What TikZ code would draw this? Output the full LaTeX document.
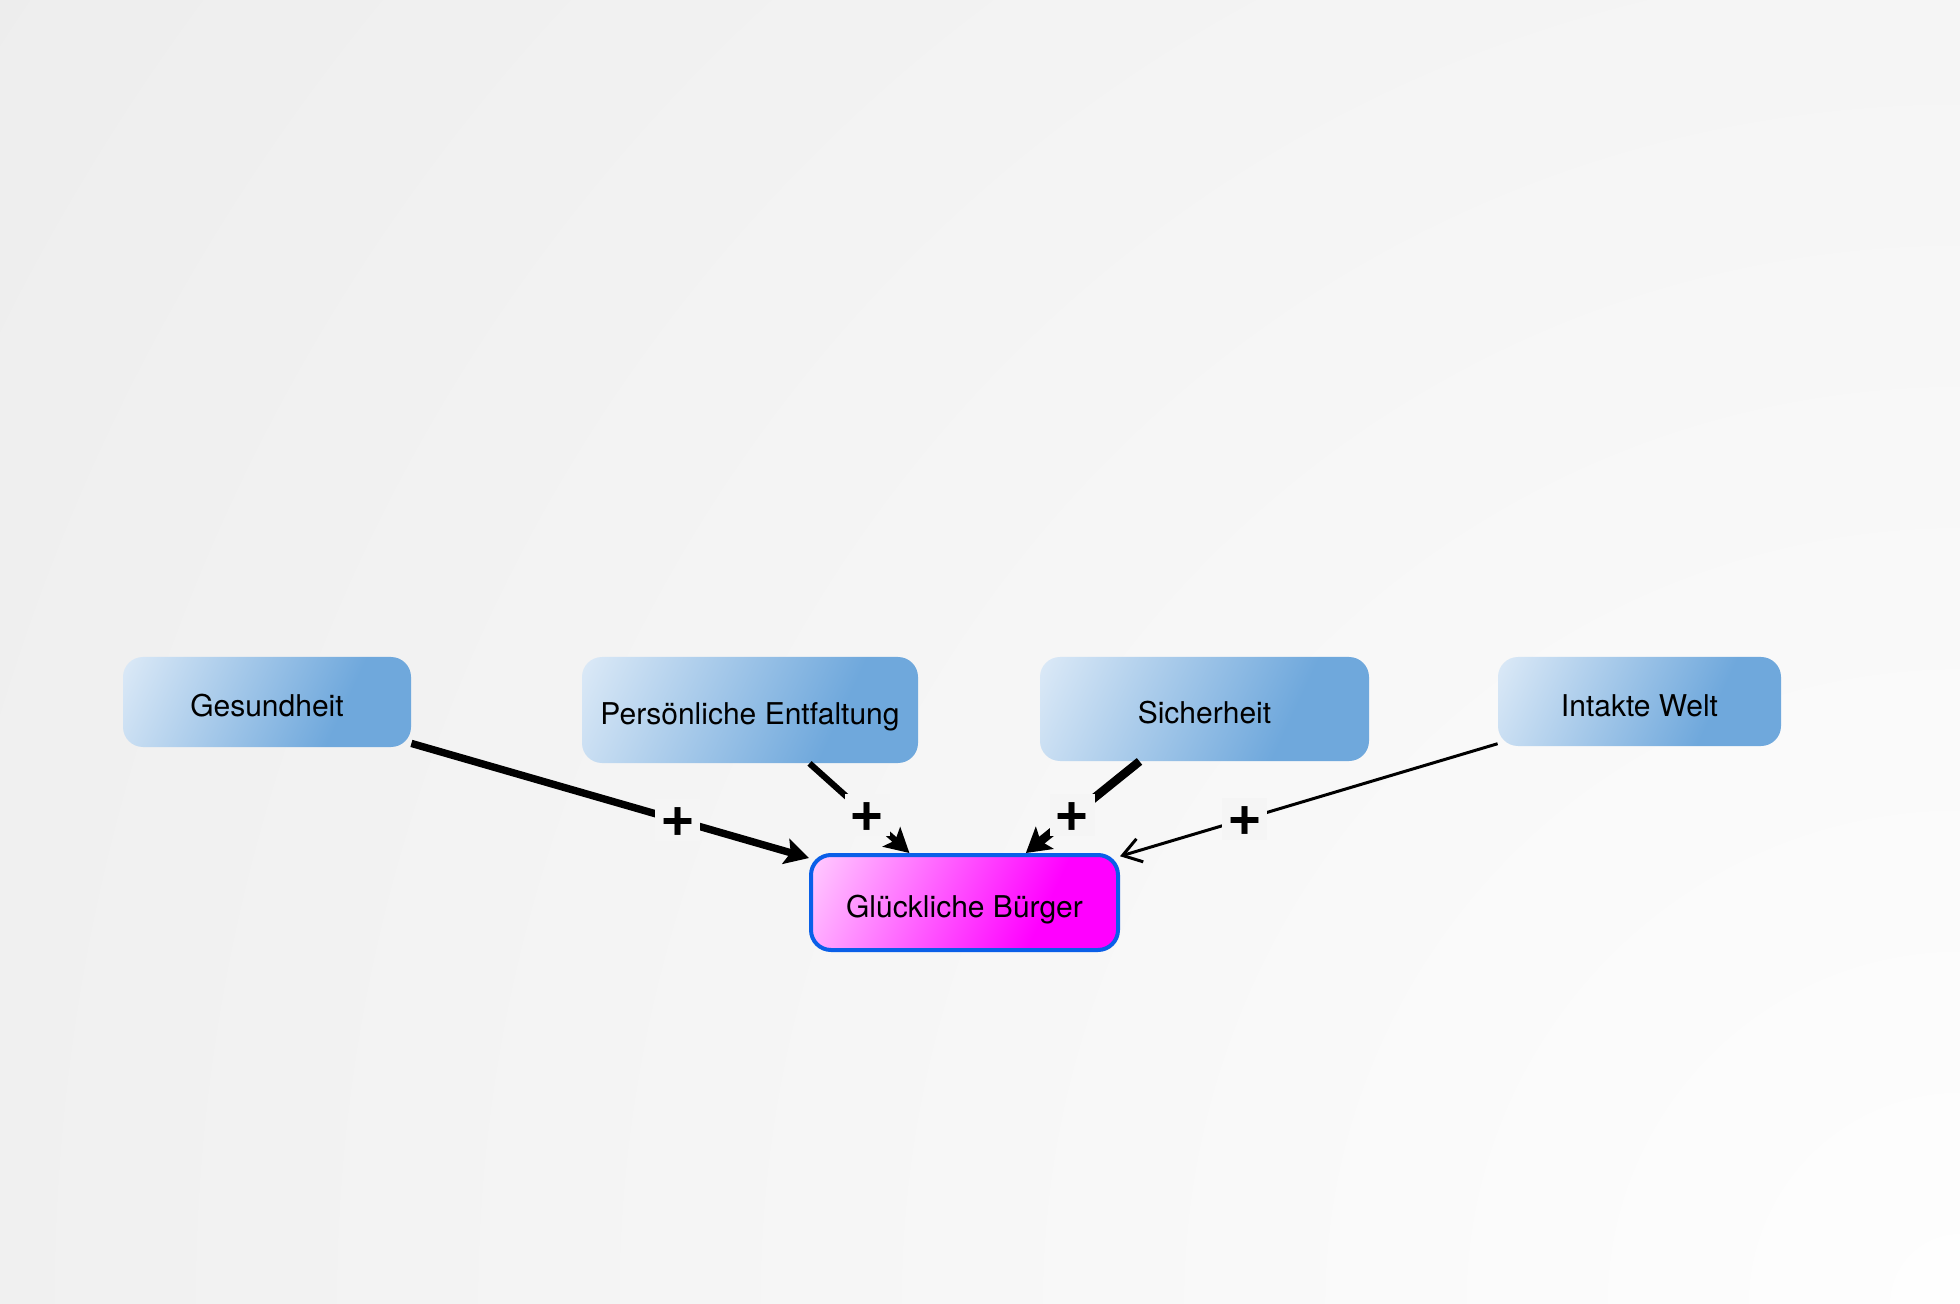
\documentclass[tikz,border=0pt]{standalone}
\usepackage{fontspec}
\setmainfont{TeX Gyre Heros}
\usetikzlibrary{arrows.meta}
\definecolor{bl1}{HTML}{E0ECF8}
\definecolor{bl2}{HTML}{6FA8DC}
\definecolor{mg1}{HTML}{FFD4FF}
\definecolor{mg2}{HTML}{FF00FF}
\definecolor{bord}{HTML}{0A5FE8}
\definecolor{bgin}{HTML}{FEFEFE}
\definecolor{bgout}{HTML}{EDEDED}
\definecolor{lblbg}{HTML}{F5F5F5}
\pgfdeclarehorizontalshading{blueshade}{100bp}{color(0bp)=(bl1); color(15bp)=(bl1); color(66bp)=(bl2); color(100bp)=(bl2)}
\pgfdeclarehorizontalshading{magshade}{100bp}{color(0bp)=(mg1); color(15bp)=(mg1); color(66bp)=(mg2); color(100bp)=(mg2)}
\begin{document}
\begin{tikzpicture}[x=0.5pt,y=-0.5pt,
  box/.style={rounded corners=10pt, inner sep=0pt, text height=15pt, text depth=0pt, font=\fontsize{15}{18}\selectfont},
  cause/.style={box, shade, shading=blueshade, shading angle=-25},
  effect/.style={box, shade, shading=magshade, shading angle=-25, draw=bord, line width=2pt},
  lbl/.style={fill=lblbg, inner sep=2.5pt, text height=16pt, text depth=0pt, font=\bfseries\fontsize{30}{32}\selectfont},
  link/.style={draw=black}]
\useasboundingbox (0,0) rectangle (1960,1304);
\begin{scope}
\clip (0,0) rectangle (1960,1304);
\shade[inner color=bgin, outer color=bgout] (1960,1304) circle (1200pt);
\end{scope}

\node[cause, minimum width=144pt, minimum height=45pt] (ges) at (267,702) {Gesundheit};
\node[cause, minimum width=168pt, minimum height=53pt] (pers) at (750,710) {Persönliche Entfaltung};
\node[cause, minimum width=164.5pt, minimum height=52pt] (sich) at (1204.5,709) {Sicherheit};
\node[cause, minimum width=141.5pt, minimum height=44.5pt] (welt) at (1639.5,701.5) {Intakte Welt};
\node[effect, minimum width=153.5pt, minimum height=47.5pt] (gb) at (964.5,902.5) {Glückliche Bürger};

\draw[link, line width=3.7pt, -{Stealth[length=12pt,width=13pt,inset=2.5pt]}] (ges) -- node[lbl, pos=0.67] {+} (gb);
\draw[link, line width=3.1pt, -{Stealth[length=12pt,width=13pt,inset=2.5pt]}] (pers) -- node[lbl, pos=0.58] {+} (gb);
\draw[link, line width=4.3pt, -{Stealth[length=12pt,width=14pt,inset=2.5pt]}] (sich) -- node[lbl, pos=0.59] {+} (gb);
\draw[link, line width=1.5pt, -{Straight Barb[length=9pt,width=12pt]}] (welt) -- node[lbl, pos=0.67] {+} (gb);
\end{tikzpicture}
\end{document}
